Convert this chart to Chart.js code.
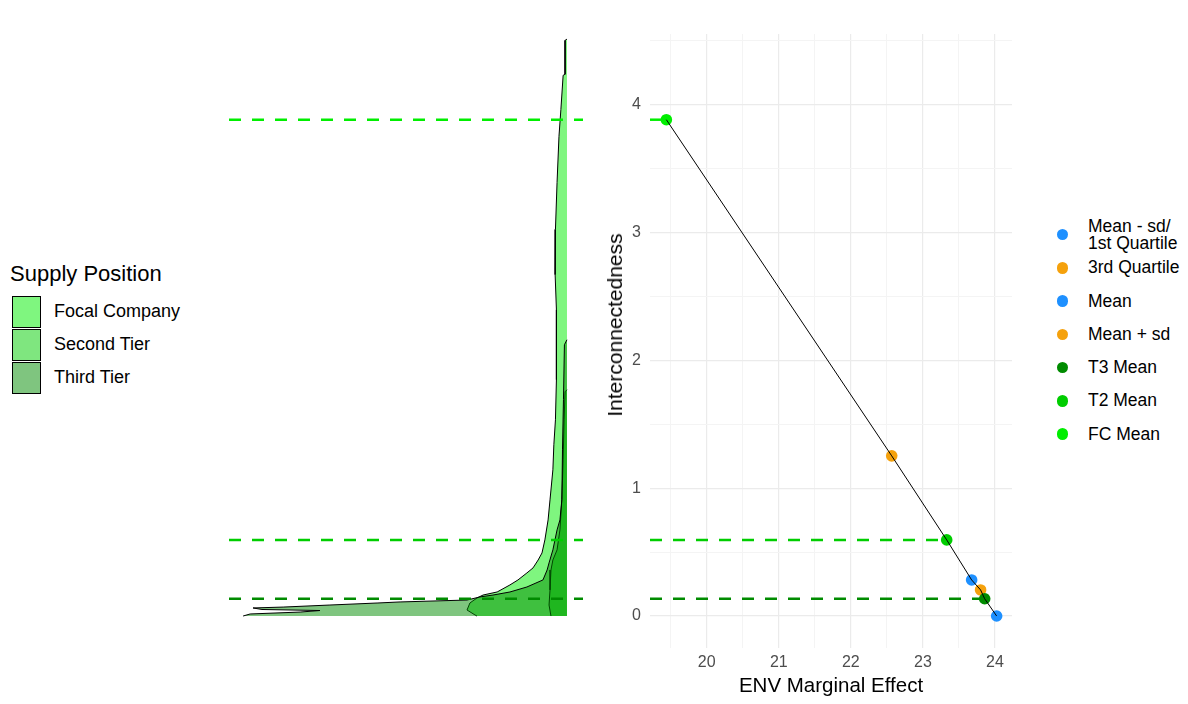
<!DOCTYPE html>
<html>
<head>
<meta charset="utf-8">
<script src="https://cdn.jsdelivr.net/npm/chart.js@4.4.1/dist/chart.umd.min.js"></script>
<style>
  html, body { margin: 0; padding: 0; background: #fff; }
  body { width: 1188px; height: 704px; position: relative; overflow: hidden;
         font-family: 'Liberation Sans', Arial, sans-serif; color: #000; }
  canvas { position: absolute; top: 0; }
  #densityChart { left: 229px; }
  #effectChart { left: 590px; }
  #tierLegend { position: absolute; left: 10px; top: 260px; }
  #tierLegend .title { font-size: 22px; line-height: 27px; margin-bottom: 8px; white-space: nowrap; }
  #tierLegend .row { display: flex; align-items: center; height: 33px; }
  #tierLegend .key { width: 27px; height: 30px; border: 1.5px solid #000; margin-left: 2px; }
  #tierLegend .lbl { font-size: 18px; margin-left: 13px; white-space: nowrap; }
  #pointLegend .row { position: absolute; left: 1050px; height: 40px; display: flex; align-items: center; }
  #pointLegend .dot { width: 11.5px; height: 11.5px; border-radius: 50%; margin-left: 6.5px; }
  #pointLegend .lbl { font-size: 17.5px; line-height: 17px; margin-left: 20px; white-space: pre-line; }
  #yTitle { position: absolute; left: 615px; top: 325px; font-size: 21px; white-space: nowrap;
            transform: translate(-50%, -50%) rotate(-90deg); }
</style>
</head>
<body>
<canvas id="densityChart" width="354" height="704"></canvas>
<canvas id="effectChart" width="440" height="704"></canvas>
<div id="tierLegend"><div class="title">Supply Position</div></div>
<div id="pointLegend"></div>
<div id="yTitle">Interconnectedness</div>
<script>
// --- shared axis limits ---
const ySpan = [-0.25, 4.55];        // Interconnectedness (both panels)
const densitySpan = [-0.5, 10.55];  // density, drawn right-to-left
const envSpan = [19.213, 24.236];   // ENV Marginal Effect
const xTicks = [20, 21, 22, 23, 24];
const yTicks = [0, 1, 2, 3, 4];
const xGrid = [19.5, 20, 20.5, 21, 21.5, 22, 22.5, 23, 23.5, 24];
const yGrid = [0, 0.5, 1, 1.5, 2, 2.5, 3, 3.5, 4, 4.5];

// --- supply position densities, [density, interconnectedness], top of curve down to 0 ---
const tierNames = ['Focal Company', 'Second Tier', 'Third Tier'];
const tierFill = ['rgba(0,238,0,0.5)', 'rgba(0,205,0,0.5)', 'rgba(0,139,0,0.5)'];

const focalDensity = [
  [0, 4.51], [0.06, 4.50], [0.06, 4.235], [0.12, 4.227], [0.19, 3.961], [0.25, 3.75],
  [0.31, 3.389], [0.36, 3.022], [0.37, 2.669], [0.33, 2.395], [0.33, 1.847], [0.36, 1.534],
  [0.41, 1.339], [0.44, 1.143], [0.53, 0.908], [0.59, 0.751], [0.69, 0.595], [0.78, 0.493],
  [0.90, 0.438], [1.06, 0.376], [1.25, 0.337], [1.53, 0.282], [1.78, 0.243], [2.18, 0.188],
  [2.62, 0.164], [2.81, 0.141], [3.03, 0.102], [3.12, 0.047], [2.87, 0.008], [2.81, 0]
];
const secondDensity = [
  [0, 1.769], [0.06, 1.753], [0.09, 1.534], [0.12, 1.221], [0.16, 0.908], [0.22, 0.673],
  [0.31, 0.517], [0.44, 0.438], [0.50, 0.36], [0.53, 0.204], [0.56, 0.086], [0.50, 0]
];
const thirdDensity = [
  [0, 2.16], [0.08, 2.121], [0.11, 1.691], [0.14, 1.299], [0.16, 0.908], [0.22, 0.751],
  [0.31, 0.673], [0.44, 0.517], [0.56, 0.415], [0.62, 0.36], [0.75, 0.282], [1.25, 0.227],
  [1.78, 0.188], [2.31, 0.164], [2.72, 0.149], [3.12, 0.125], [5.21, 0.11], [5.90, 0.102],
  [7.40, 0.086], [8.86, 0.07], [9.80, 0.063], [9.52, 0.051], [7.71, 0.043], [8.33, 0.031],
  [9.89, 0.016], [10.11, 0]
];
const tierDensities = [focalDensity, secondDensity, thirdDensity];

// --- marginal effect points (legend order = drawing order) ---
const pointLabels = ['Mean - sd/\n1st Quartile', '3rd Quartile', 'Mean', 'Mean + sd', 'T3 Mean', 'T2 Mean', 'FC Mean'];
const pointColors = ['#1E90FF', '#F5A10C', '#1E90FF', '#F5A10C', '#008B00', '#00CD00', '#00EE00'];
const envEffect = [24.023, 22.567, 23.676, 23.80, 23.857, 23.33, 19.44];
const interconnect = [0, 1.252, 0.282, 0.204, 0.135, 0.595, 3.88];
const meanLines = ['T3 Mean', 'T2 Mean', 'FC Mean'];

// ---------- legends ----------
const tierLegend = document.getElementById('tierLegend');
tierNames.forEach((name, i) => {
  const row = document.createElement('div');
  row.className = 'row';
  row.innerHTML = '<div class="key" style="background:' + tierFill[i] + '"></div><div class="lbl"></div>';
  row.querySelector('.lbl').textContent = name;
  tierLegend.appendChild(row);
});

const pointLegend = document.getElementById('pointLegend');
pointLabels.forEach((name, i) => {
  const row = document.createElement('div');
  row.className = 'row';
  row.style.top = (234.5 + i * 33.25 - 20) + 'px';
  row.innerHTML = '<div class="dot" style="background:' + pointColors[i] + '"></div><div class="lbl"></div>';
  row.querySelector('.lbl').textContent = name;
  pointLegend.appendChild(row);
});

// ---------- left panel: densities ----------
const dashedSets = meanLines.map(name => {
  const i = pointLabels.indexOf(name);
  return {
    type: 'line',
    data: [{ x: densitySpan[1], y: interconnect[i] }, { x: densitySpan[0], y: interconnect[i] }],
    borderColor: pointColors[i],
    borderWidth: 2.5,
    borderDash: [12, 11],
    pointRadius: 0,
    fill: false
  };
});

// each tier: filled area (closed along the zero-density baseline) + its outline
let densitySets = [];
tierDensities.forEach((pts, i) => {
  const curve = pts.map(p => ({ x: p[0], y: p[1] }));
  const area = curve.concat([{ x: 0, y: pts[pts.length - 1][1] }]);
  densitySets = [
    { type: 'line', data: curve, borderColor: '#000', borderWidth: 1, pointRadius: 0, tension: 0, fill: false },
    { type: 'line', data: area, backgroundColor: tierFill[i], borderWidth: 0, borderColor: 'rgba(0,0,0,0)',
      pointRadius: 0, tension: 0, fill: 'shape' }
  ].concat(densitySets);   // later tiers sit on top
});

new Chart(document.getElementById('densityChart'), {
  type: 'line',
  data: { datasets: dashedSets.concat(densitySets) },
  options: {
    responsive: false,
    animation: false,
    layout: { padding: { top: 34, bottom: 56, left: 0, right: 0 } },
    plugins: { legend: { display: false }, tooltip: { enabled: false } },
    scales: {
      x: { type: 'linear', reverse: true, min: densitySpan[0], max: densitySpan[1], display: false },
      y: { type: 'linear', min: ySpan[0], max: ySpan[1], display: false }
    }
  }
});

// ---------- right panel: marginal effect ----------
const order = envEffect.map((v, i) => i).sort((a, b) => envEffect[a] - envEffect[b]);
const fitLine = {
  type: 'line',
  data: order.map(i => ({ x: envEffect[i], y: interconnect[i] })),
  borderColor: '#000',
  borderWidth: 1,
  pointRadius: 0,
  fill: false
};

const pointSets = pointLabels.map((name, i) => ({
  label: name,
  data: [{ x: envEffect[i], y: interconnect[i] }],
  backgroundColor: pointColors[i],
  borderWidth: 0,
  pointRadius: 5.8
})).reverse();

const guideSets = meanLines.map(name => {
  const i = pointLabels.indexOf(name);
  return {
    type: 'line',
    data: [{ x: envSpan[0], y: interconnect[i] }, { x: envEffect[i], y: interconnect[i] }],
    borderColor: pointColors[i],
    borderWidth: 2.5,
    borderDash: [12, 11],
    pointRadius: 0,
    fill: false
  };
});

const gridColor = ctx => (ctx.tick && Number.isInteger(ctx.tick.value)) ? '#EBEBEB' : '#F4F4F4';
const gridWidth = ctx => (ctx.tick && Number.isInteger(ctx.tick.value)) ? 1.2 : 1;

new Chart(document.getElementById('effectChart'), {
  type: 'scatter',
  data: { datasets: [fitLine].concat(pointSets, guideSets) },
  options: {
    responsive: false,
    animation: false,
    layout: { padding: { top: 34, right: 18, bottom: 0, left: 0 } },
    plugins: { legend: { display: false }, tooltip: { enabled: false } },
    scales: {
      x: {
        type: 'linear', min: envSpan[0], max: envSpan[1],
        afterBuildTicks: s => { s.ticks = xGrid.map(v => ({ value: v })); },
        afterFit: s => { s.height = 56; },
        ticks: {
          autoSkip: false, maxRotation: 0, padding: 5,
          color: '#4D4D4D', font: { family: 'Liberation Sans', size: 16 },
          callback: v => xTicks.includes(v) ? String(v) : ''
        },
        grid: { color: gridColor, lineWidth: gridWidth, drawTicks: false },
        border: { display: false },
        title: {
          display: true, text: 'ENV Marginal Effect', color: '#000',
          font: { family: 'Liberation Sans', size: 20.5 }, padding: { top: 0, bottom: 5 }
        }
      },
      y: {
        type: 'linear', min: ySpan[0], max: ySpan[1],
        afterBuildTicks: s => { s.ticks = yGrid.map(v => ({ value: v })); },
        afterFit: s => { s.width = 60; },
        ticks: {
          autoSkip: false, padding: 9,
          color: '#4D4D4D', font: { family: 'Liberation Sans', size: 16 },
          callback: v => yTicks.includes(v) ? String(v) : ''
        },
        grid: { color: gridColor, lineWidth: gridWidth, drawTicks: false },
        border: { display: false },
        title: { display: false }
      }
    }
  }
});
</script>
</body>
</html>
